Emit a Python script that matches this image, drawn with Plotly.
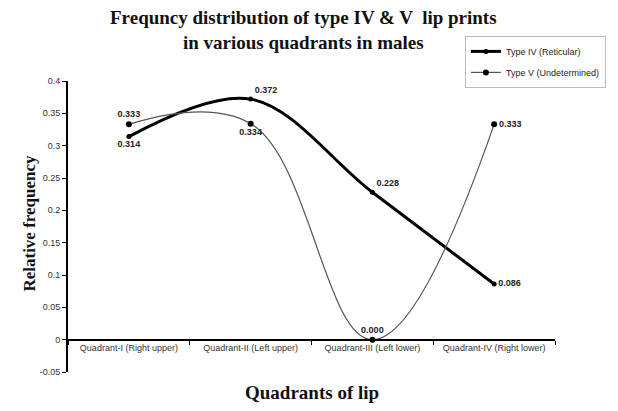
import plotly.graph_objects as go

quadrants = ["Quadrant-I (Right upper)", "Quadrant-II (Left upper)",
             "Quadrant-III (Left lower)", "Quadrant-IV (Right lower)"]
type_iv = [0.314, 0.372, 0.228, 0.086]
type_v = [0.333, 0.334, 0.000, 0.333]
y_ticks = [-0.05, 0, 0.05, 0.1, 0.15, 0.2, 0.25, 0.3, 0.35, 0.4]
y_tick_text = ["-0.05", "0", "0.05", "0.1", "0.15", "0.2", "0.25", "0.3", "0.35", "0.4"]

serif = "Liberation Serif"
sans = "Liberation Sans"

fig = go.Figure()

fig.add_trace(go.Scatter(
    x=quadrants, y=type_iv, name="Type IV (Reticular)", legendgroup="a",
    mode="lines+markers+text",
    line=dict(color="black", width=3, shape="spline", smoothing=1),
    marker=dict(color="black", size=5),
    text=["%.3f" % v for v in type_iv], texttemplate="<b>%{text}</b>",
    textposition=["bottom center", "top right", "top right", "middle right"],
    textfont=dict(family=sans, size=9, color="#222"),
))

fig.add_trace(go.Scatter(
    x=quadrants, y=type_v, name="Type V (Undetermined)", legendgroup="b",
    mode="lines+markers+text",
    line=dict(color="#555", width=1.2, shape="spline", smoothing=1.15),
    marker=dict(color="black", size=6),
    text=["%.3f" % v for v in type_v], texttemplate="<b>%{text}</b>",
    textposition=["top center", "bottom center", "top center", "middle right"],
    textfont=dict(family=sans, size=9, color="#222"),
))

# page body adds 8px around the plot div, so the figure is 8px smaller
fig.update_layout(
    width=610, height=403,
    margin=dict(l=60, r=42, t=73, b=39),
    paper_bgcolor="white", plot_bgcolor="white",
    font=dict(family=sans, size=9, color="#333"),
    legend=dict(x=0.815, y=1.155, xanchor="left", yanchor="top",
                bordercolor="#bbb", borderwidth=1, tracegroupgap=2, itemwidth=30,
                font=dict(family=sans, size=9, color="#222")),
    annotations=[
        dict(text="<b>Frequncy distribution of type IV & V  lip prints<br>in various quadrants in males</b>",
             x=0.484, y=1.175, xref="paper", yref="paper", showarrow=False,
             yanchor="middle", font=dict(family=serif, size=19, color="#111")),
        dict(text="<b>Quadrants of lip</b>", x=0.5, y=-0.072, xref="paper", yref="paper",
             showarrow=False, yanchor="middle", font=dict(family=serif, size=19, color="#111")),
        dict(text="<b>Relative frequency</b>", x=-0.081, y=0.512, xref="paper", yref="paper",
             showarrow=False, textangle=-90, xanchor="center", yanchor="middle",
             font=dict(family=serif, size=17, color="#111")),
    ],
)

fig.update_xaxes(
    type="category", range=[-0.5, 3.5], anchor="free", position=0.1111,
    showline=True, linecolor="black", linewidth=2,
    ticks="outside", tickson="boundaries", ticklen=4, tickcolor="black",
    showgrid=False, zeroline=False,
)
fig.update_yaxes(
    range=[-0.05, 0.4], tickvals=y_ticks, ticktext=y_tick_text,
    showline=True, linecolor="black", linewidth=2,
    ticks="outside", ticklen=4, tickcolor="black",
    showgrid=False, zeroline=False,
)

fig.write_html("out.html")
